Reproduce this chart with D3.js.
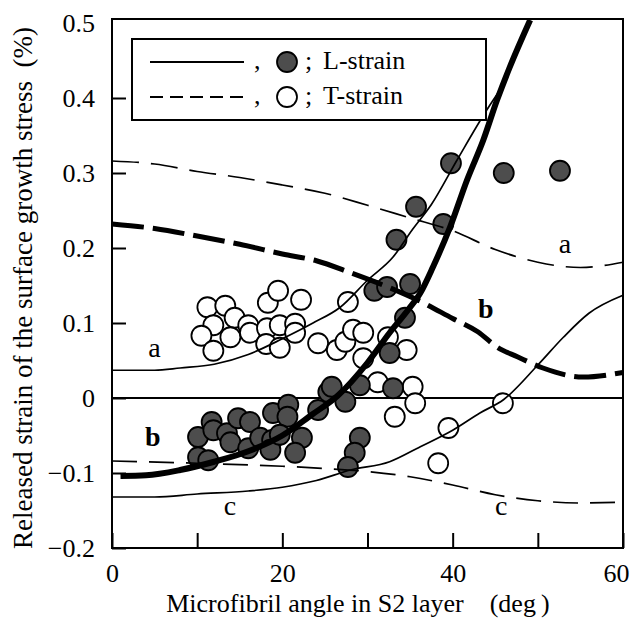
<!DOCTYPE html>
<html><head><meta charset="utf-8">
<script src="https://cdn.jsdelivr.net/npm/d3@7"></script>
<style>
html,body{margin:0;padding:0;background:#fff;}
svg text{font-family:"Liberation Serif","DejaVu Serif",serif;fill:#000;}
</style></head>
<body><svg id="c" width="632" height="619"></svg>
<script>
// ---- data ----
const xTickValues = [0, 10, 20, 30, 40, 50, 60];
const xTickLabels = ["0", "", "20", "", "40", "", "60"];
const yTickValues = [-0.2, -0.1, 0, 0.1, 0.2, 0.3, 0.4, 0.5];
const yTickLabels = ["\u22120.2", "\u22120.1", "0", "0.1", "0.2", "0.3", "0.4", "0.5"];

// calculated curves: L-strain (solid) and T-strain (dashed), cases a, b, c
const lStrainA = [[0,0.037],[5,0.037],[8,0.040],[12,0.045],[16,0.058],[20,0.079],[23.6,0.100],[26.8,0.121],[30,0.157],[33,0.188],[35.3,0.225],[37.5,0.258],[40.5,0.317],[44,0.384],[46,0.418]];
const lStrainB = [[1,-0.104],[4,-0.103],[8,-0.096],[12,-0.085],[16,-0.071],[20,-0.050],[23.5,-0.022],[26.5,0.003],[30,0.047],[32.6,0.087],[34.8,0.118],[36.2,0.140],[37.7,0.175],[39.7,0.228],[41.7,0.291],[43.6,0.344],[45.2,0.397],[46.7,0.441],[49.1,0.504]];
const lStrainC = [[0,-0.132],[5,-0.132],[10,-0.128],[16,-0.124],[20,-0.119],[24,-0.110],[28,-0.096],[32.6,-0.085],[36.2,-0.065],[40,-0.043],[43.2,-0.020],[46,-0.002],[50,0.044],[53,0.081],[56,0.113],[60,0.137]];
const tStrainA = [[0,0.316],[5,0.312],[10,0.302],[15,0.294],[20,0.284],[25,0.273],[30,0.257],[35,0.240],[40,0.223],[45,0.198],[50,0.181],[55,0.174],[60,0.181]];
const tStrainB = [[0,0.232],[5,0.226],[10,0.216],[15,0.205],[20,0.192],[24,0.183],[28,0.167],[32.6,0.147],[36,0.130],[40,0.106],[43,0.088],[45.2,0.068],[47.6,0.055],[50.6,0.040],[55.3,0.028],[60,0.034]];
const tStrainC = [[0,-0.084],[10,-0.087],[20,-0.091],[25,-0.094],[30,-0.098],[35,-0.105],[40,-0.116],[45,-0.129],[50,-0.137],[55,-0.140],[60,-0.139]];

// measured released strains: [microfibril angle (deg), strain (%)]
const tStrainPoints = [[11.2,0.121],[13.3,0.123],[11.9,0.097],[14.4,0.107],[10.5,0.083],[11.9,0.063],[13.9,0.081],[16.0,0.097],[16.2,0.087],[18.3,0.127],[19.5,0.143],[22.2,0.131],[18.2,0.093],[18.1,0.072],[19.7,0.067],[19.7,0.097],[21.5,0.099],[21.5,0.087],[24.2,0.073],[26.4,0.064],[27.7,0.128],[27.4,0.075],[28.3,0.091],[29.5,0.087],[29.5,0.053],[32.4,0.081],[34.6,0.064],[31.2,0.021],[35.3,0.015],[35.6,-0.007],[33.2,-0.025],[39.5,-0.040],[38.3,-0.087],[45.9,-0.007]];
const lStrainPoints = [[10.1,-0.052],[10.1,-0.079],[11.7,-0.032],[11.9,-0.043],[11.3,-0.083],[13.5,-0.047],[13.9,-0.059],[14.8,-0.027],[16.2,-0.032],[16.0,-0.067],[17.4,-0.053],[18.8,-0.056],[18.6,-0.069],[18.9,-0.020],[20.7,-0.009],[20.6,-0.025],[22.3,-0.053],[21.5,-0.073],[24.2,-0.016],[25.4,0.008],[19.7,-0.049],[34.4,0.107],[32.6,0.060],[25.8,0.015],[27.4,-0.005],[29.1,0.017],[33.0,0.013],[29.1,-0.053],[28.5,-0.073],[27.7,-0.092],[35.7,0.255],[38.9,0.232],[33.4,0.211],[30.8,0.143],[32.3,0.148],[35.0,0.152],[39.8,0.313],[46.0,0.300],[52.6,0.303]];

// curve labels: [text, x, y, bold]
const curveLabels = [["a",5.0,0.055,false],["b",4.8,-0.064,true],["c",13.85,-0.156,false],["a",53.2,0.193,false],["b",43.9,0.107,true],["c",45.7,-0.156,false]];
const legendItems = [{dash:null, filled:true, label:"L-strain"},{dash:"13,7", filled:false, label:"T-strain"}];

// ---- drawing ----
const svg = d3.select("#c");
const FS = 26;
const xs = d3.scaleLinear().domain([0,60]).range([112,623]);
const ys = d3.scaleLinear().domain([-0.2,0.5]).range([548,23]);
const pL = xs(0), pR = xs(60), pB = ys(-0.2), pT = ys(0.5) - 4;

// zero line
svg.append("line").attr("x1",pL).attr("x2",pR).attr("y1",ys(0)).attr("y2",ys(0))
  .attr("stroke","#000").attr("stroke-width",1.8);

// points
const R = 10;
svg.append("g").selectAll("circle").data(tStrainPoints).join("circle")
  .attr("cx",d=>xs(d[0])).attr("cy",d=>ys(d[1])).attr("r",R)
  .attr("fill","#fff").attr("stroke","#000").attr("stroke-width",1.8);
svg.append("g").selectAll("circle").data(lStrainPoints).join("circle")
  .attr("cx",d=>xs(d[0])).attr("cy",d=>ys(d[1])).attr("r",R)
  .attr("fill","#4d4d4d").attr("stroke","#000").attr("stroke-width",1.8);

// curves
const line = d3.line().x(d=>xs(d[0])).y(d=>ys(d[1])).curve(d3.curveMonotoneX);
const curves = [
  {d:lStrainA, w:1.7, dash:null},
  {d:lStrainC, w:1.7, dash:null},
  {d:lStrainB, w:6, dash:null},
  {d:tStrainA, w:1.7, dash:"27,12"},
  {d:tStrainC, w:1.7, dash:"25,12"},
  {d:tStrainB, w:5, dash:"32,9"}
];
svg.append("g").selectAll("path").data(curves).join("path")
  .attr("d",c=>line(c.d)).attr("fill","none").attr("stroke","#000")
  .attr("stroke-width",c=>c.w).attr("stroke-dasharray",c=>c.dash);

// curve labels
svg.append("g").selectAll("text").data(curveLabels).join("text")
  .attr("x",d=>xs(d[1])).attr("y",d=>ys(d[2])).attr("text-anchor","middle")
  .attr("font-size",FS+2).attr("font-weight",d=>d[3]?"bold":"normal").text(d=>d[0]);

// axes
const yAxis = d3.axisLeft(ys).tickValues(yTickValues).tickSize(-14).tickPadding(17)
  .tickFormat((d,i)=>yTickLabels[i]);
const gy = svg.append("g").attr("transform",`translate(${pL},0)`).call(yAxis);
const xAxis = d3.axisBottom(xs).tickValues(xTickValues).tickSize(-15).tickPadding(16)
  .tickFormat((d,i)=>xTickLabels[i]);
const gx = svg.append("g").attr("transform",`translate(0,${pB})`).call(xAxis);
[gx,gy].forEach(g=>{
  g.attr("font-family",null);
  g.select(".domain").remove();
  g.selectAll(".tick line").attr("stroke","#000").attr("stroke-width",2);
  g.selectAll(".tick text").attr("font-size",FS).attr("fill","#000");
});
gy.selectAll(".tick").filter(d=>d===0.5).select("line").remove();
gx.selectAll(".tick").filter(d=>d===60).select("text").attr("dx",-7);

// frame
svg.append("rect").attr("x",pL).attr("y",pT).attr("width",pR-pL).attr("height",pB-pT)
  .attr("fill","none").attr("stroke","#000").attr("stroke-width",2);

// axis titles
svg.append("text").attr("x",358).attr("y",612).attr("text-anchor","middle").attr("font-size",FS)
  .text("Microfibril angle in S2 layer\u2002\u2002(deg\u2009)");
svg.append("text").attr("transform","translate(32,288) rotate(-90)").attr("text-anchor","middle")
  .attr("font-size",27).text("Released strain of the surface growth stress\u2002(%)");

// legend
const lg = svg.append("g");
lg.append("rect").attr("x",132).attr("y",39).attr("width",354).attr("height",81)
  .attr("fill","#fff").attr("stroke","#000").attr("stroke-width",2);
legendItems.forEach((it,i)=>{
  const y = 62 + i*35;
  lg.append("line").attr("x1",150).attr("x2",244).attr("y1",y).attr("y2",y)
    .attr("stroke","#000").attr("stroke-width",1.8).attr("stroke-dasharray",it.dash);
  lg.append("text").attr("x",254).attr("y",y+7).attr("font-size",FS).text(",");
  lg.append("circle").attr("cx",287).attr("cy",y).attr("r",R)
    .attr("fill",it.filled?"#4d4d4d":"#fff").attr("stroke","#000").attr("stroke-width",1.8);
  lg.append("text").attr("x",305).attr("y",y+7).attr("font-size",FS).text(";");
  lg.append("text").attr("x",323).attr("y",y+7).attr("font-size",FS).text(it.label);
});
</script></body></html>
